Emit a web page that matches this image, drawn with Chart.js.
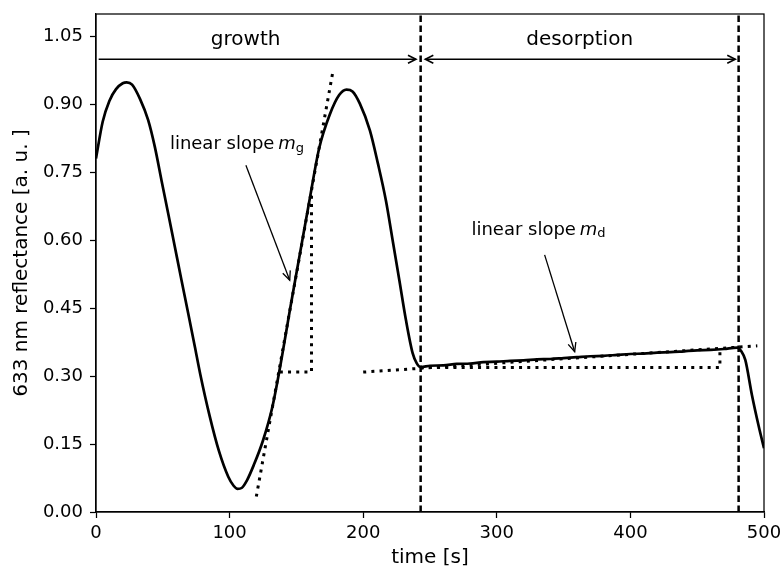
<!DOCTYPE html>
<html>
<head>
<meta charset="utf-8">
<script src="https://cdn.jsdelivr.net/npm/chart.js@4.4.1/dist/chart.umd.min.js"></script>
<style>
  html, body { margin: 0; padding: 0; background: #fff; }
  canvas { display: block; }
</style>
</head>
<body>
<canvas id="chart" width="783" height="568"></canvas>
<script>
// measured reflectance trace
const times = [0, 5, 10, 15, 20, 23, 27, 33, 39, 44, 49, 54, 59, 64, 69, 74, 78, 85, 92, 99, 103, 106, 109, 113, 118, 125, 132, 139, 145, 152, 160, 167, 175, 182, 187.5, 192, 197.5, 205, 211, 217, 222, 227, 232, 237, 240, 243,
  250, 260, 270, 280, 290, 300, 310, 320, 330, 340, 350, 360, 370, 380, 390, 400, 410, 420, 430, 440, 450, 460, 470, 480, 483, 486, 491, 496, 500];
const reflectance = [0.781, 0.862, 0.908, 0.934, 0.947, 0.949, 0.944, 0.912, 0.866, 0.807, 0.733, 0.660, 0.586, 0.512, 0.439, 0.365, 0.305, 0.213, 0.135, 0.078, 0.058, 0.051, 0.053, 0.070, 0.103, 0.158, 0.232, 0.340, 0.444, 0.560, 0.692, 0.803, 0.878, 0.921, 0.933, 0.929, 0.902, 0.843, 0.770, 0.688, 0.601, 0.513, 0.424, 0.351, 0.329, 0.320,
  0.323, 0.324, 0.327, 0.328, 0.331, 0.332, 0.334, 0.335, 0.337, 0.338, 0.340, 0.342, 0.344, 0.345, 0.347, 0.349, 0.350, 0.352, 0.353, 0.355, 0.357, 0.358, 0.360, 0.363, 0.355, 0.336, 0.258, 0.190, 0.141];

// linear fits and slope triangles (dotted)
const growthFitT = [120, 177.5];
const growthFitR = [0.034, 0.976];
const growthStepT = [137.6, 161.3, 161.3];
const growthStepR = [0.309, 0.309, 0.705];
const desorbFitT = [200, 495];
const desorbFitR = [0.309, 0.367];
const desorbStepT = [243, 467, 467];
const desorbStepR = [0.319, 0.319, 0.358];

// phase boundaries (dashed)
const boundaryT = [243, 481];

const xTicks = [0, 100, 200, 300, 400, 500];
const yTicks = [0, 0.15, 0.30, 0.45, 0.60, 0.75, 0.90, 1.05];

// phase arrows and labels
const phaseArrows = [
  { from: 2, to: 239.5, y: 1.0, label: 'growth', labelT: 112, both: false },
  { from: 246.5, to: 478.5, y: 1.0, label: 'desorption', labelT: 362, both: true }
];
const labelY = 1.042;

// slope annotations
const notes = [
  { sub: 'g', textT: 55.3, textY: 0.812, tailT: 112.2, tailY: 0.766, headT: 145, headY: 0.512 },
  { sub: 'd', textT: 281, textY: 0.623, tailT: 335.8, tailY: 0.568, headT: 358.3, headY: 0.354 }
];

const FONT = 'DejaVu Sans';
const pts = (ts, rs) => ts.map((t, i) => ({ x: t, y: rs[i] }));

const dotted = { borderColor: '#000', borderWidth: 3, borderDash: [3, 5.2], pointRadius: 0, tension: 0, fill: false };
const dashed = { borderColor: '#000', borderWidth: 2.5, borderDash: [6.5, 3.5], pointRadius: 0, tension: 0, fill: false };

const datasets = [
  { data: pts(times, reflectance), borderColor: '#000', borderWidth: 2.7, pointRadius: 0, cubicInterpolationMode: 'monotone', fill: false },
  { data: pts(growthFitT, growthFitR), ...dotted },
  { data: pts(growthStepT, growthStepR), ...dotted },
  { data: pts(desorbFitT, desorbFitR), ...dotted },
  { data: pts(desorbStepT, desorbStepR), ...dotted }
];
boundaryT.forEach(t => datasets.push({ data: [{ x: t, y: 0 }, { x: t, y: 1.1 }], ...dashed }));

function arrowHead(ctx, x0, y0, x1, y1, len, half) {
  const a = Math.atan2(y1 - y0, x1 - x0);
  const w = Math.atan2(half, len);
  const l = Math.hypot(len, half);
  ctx.beginPath();
  ctx.moveTo(x1 - l * Math.cos(a - w), y1 - l * Math.sin(a - w));
  ctx.lineTo(x1, y1);
  ctx.lineTo(x1 - l * Math.cos(a + w), y1 - l * Math.sin(a + w));
  ctx.stroke();
}

const extras = {
  id: 'extras',
  afterDraw(chart) {
    const ctx = chart.ctx;
    const xs = chart.scales.x, ys = chart.scales.y;
    const a = chart.chartArea;
    ctx.save();
    // box around plot
    ctx.strokeStyle = '#000';
    ctx.lineWidth = 1.25;
    ctx.strokeRect(a.left, a.top, a.right - a.left, a.bottom - a.top);

    // phase arrows
    ctx.lineWidth = 1.6;
    ctx.fillStyle = '#000';
    ctx.font = '20px "' + FONT + '"';
    ctx.textAlign = 'center';
    ctx.textBaseline = 'middle';
    phaseArrows.forEach(p => {
      const x0 = xs.getPixelForValue(p.from), x1 = xs.getPixelForValue(p.to);
      const y = ys.getPixelForValue(p.y);
      ctx.beginPath();
      ctx.moveTo(x0, y);
      ctx.lineTo(x1, y);
      ctx.stroke();
      arrowHead(ctx, x0, y, x1, y, 8, 4);
      if (p.both) arrowHead(ctx, x1, y, x0, y, 8, 4);
      ctx.fillText(p.label, xs.getPixelForValue(p.labelT), ys.getPixelForValue(labelY));
    });

    // slope annotations
    ctx.lineWidth = 1.3;
    notes.forEach(n => {
      let x = xs.getPixelForValue(n.textT);
      const y = ys.getPixelForValue(n.textY);
      ctx.textAlign = 'left';
      ctx.textBaseline = 'middle';
      ctx.font = '18px "' + FONT + '"';
      const s = 'linear slope ';
      ctx.fillText(s, x, y);
      x += ctx.measureText(s).width - 2;
      ctx.font = 'italic 18px "' + FONT + '"';
      ctx.fillText('m', x, y);
      x += ctx.measureText('m').width;
      ctx.font = '13px "' + FONT + '"';
      ctx.fillText(n.sub, x, y + 4);

      const tx = xs.getPixelForValue(n.tailT), ty = ys.getPixelForValue(n.tailY);
      const hx = xs.getPixelForValue(n.headT), hy = ys.getPixelForValue(n.headY);
      ctx.beginPath();
      ctx.moveTo(tx, ty);
      ctx.lineTo(hx, hy);
      ctx.stroke();
      arrowHead(ctx, tx, ty, hx, hy, 9, 4);
    });
    ctx.restore();
  }
};

new Chart(document.getElementById('chart'), {
  type: 'line',
  data: { datasets },
  plugins: [extras],
  options: {
    responsive: false,
    animation: false,
    devicePixelRatio: 1,
    layout: { padding: 0 },
    plugins: { legend: { display: false }, tooltip: { enabled: false } },
    scales: {
      x: {
        type: 'linear',
        min: 0,
        max: 500,
        afterBuildTicks: s => { s.ticks = xTicks.map(v => ({ value: v })); },
        afterFit: s => { s.height = 56; s.paddingLeft = 0; s.paddingRight = 19; },
        grid: { display: true, drawOnChartArea: false, drawTicks: true, tickLength: 6, color: '#000', tickWidth: 1.25 },
        border: { display: true, color: '#000', width: 1.25 },
        ticks: { color: '#000', padding: 5, maxRotation: 0, font: { family: FONT, size: 18 } },
        title: { display: true, text: 'time [s]', color: '#000', padding: { top: 0, bottom: 0 }, font: { family: FONT, size: 20, lineHeight: 1.0 } }
      },
      y: {
        type: 'linear',
        min: 0,
        max: 1.1,
        afterBuildTicks: s => { s.ticks = yTicks.map(v => ({ value: v })); },
        afterFit: s => { s.width = 96; s.paddingTop = 14; s.paddingBottom = 0; },
        grid: { display: true, drawOnChartArea: false, drawTicks: true, tickLength: 6, color: '#000', tickWidth: 1.25 },
        border: { display: true, color: '#000', width: 1.25 },
        ticks: { color: '#000', padding: 7, callback: v => v.toFixed(2), font: { family: FONT, size: 18 } },
        title: { display: true, text: '633 nm reflectance [a. u. ]', color: '#000', padding: { top: 11, bottom: 0 }, font: { family: FONT, size: 20, lineHeight: 1.1 } }
      }
    }
  }
});
</script>
</body>
</html>
